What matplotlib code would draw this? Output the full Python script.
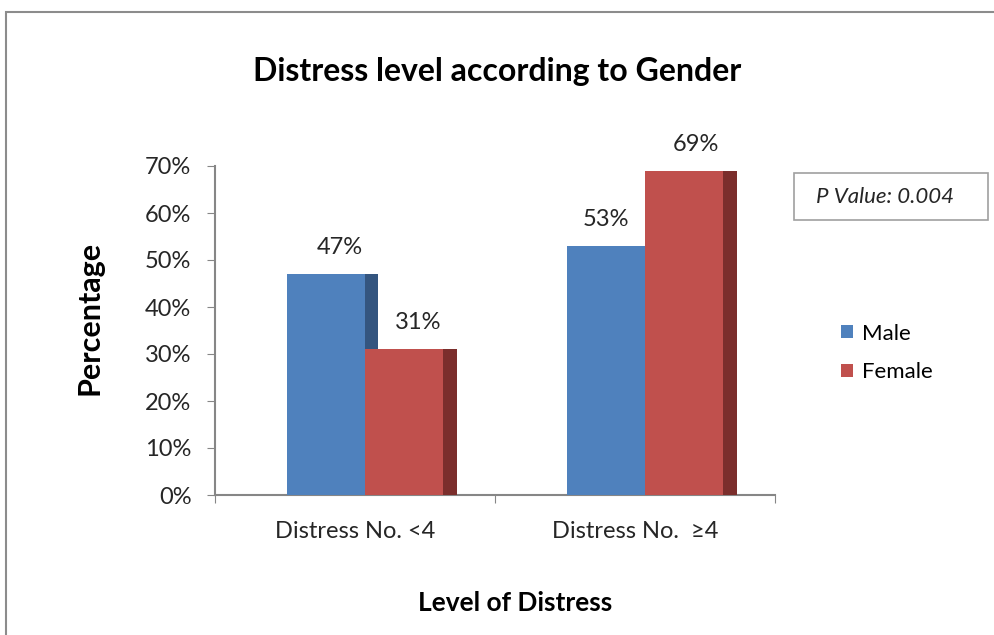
import matplotlib
matplotlib.use("Agg")
import matplotlib.pyplot as plt
from matplotlib.patches import Rectangle
from matplotlib.ticker import FixedLocator, FuncFormatter

plt.rcParams['font.family'] = ['Lato', 'DejaVu Sans']

categories = ["Distress No. <4", "Distress No.  \u22654"]
series = ["Male", "Female"]
male = [47, 53]
female = [31, 69]
y_ticks = [0, 10, 20, 30, 40, 50, 60, 70]

front_colors = {"Male": "#4f81bd", "Female": "#c0504d"}
side_colors = {"Male": "#34557f", "Female": "#7b2e2c"}
# horizontal nudge of each value label (in category units)
label_dx = {"Male": [0.05, 0.0], "Female": [0.05, 0.04]}

fig = plt.figure(figsize=(9.95, 6.35), dpi=100)
ax = fig.add_axes([215 / 995, 1 - 495 / 635, 560 / 995, (495 - 166) / 635])

bar_w = 0.28
side_w = 0.047
offsets = {"Male": -0.104, "Female": 0.176}
values = {"Male": male, "Female": female}

for z, name in enumerate(series):
    xs = [i + offsets[name] for i in range(len(categories))]
    vals = values[name]
    # darker side face to give the bars depth
    ax.bar([x + bar_w / 2 + side_w / 2 for x in xs], vals, width=side_w,
           color=side_colors[name], zorder=2 + 2 * z, linewidth=0)
    ax.bar(xs, vals, width=bar_w, color=front_colors[name],
           zorder=3 + 2 * z, linewidth=0, label=name)
    for x, v, dx in zip(xs, vals, label_dx[name]):
        ax.annotate(f"{v}%", (x + dx, v), xytext=(0, 19),
                    textcoords="offset points", ha="center", va="center",
                    fontsize=17, color="#262626")

ax.set_xlim(-0.5, 1.5)
ax.set_ylim(0, 70)
ax.yaxis.set_major_locator(FixedLocator(y_ticks))
ax.yaxis.set_major_formatter(FuncFormatter(lambda v, p: f"{int(v)}%"))
ax.tick_params(axis="y", labelsize=17, length=6, color="#868686",
               labelcolor="#262626", pad=11)

ax.xaxis.set_major_locator(FixedLocator([-0.5, 0.5, 1.5]))
ax.xaxis.set_major_formatter(FuncFormatter(lambda v, p: ""))
ax.xaxis.set_minor_locator(FixedLocator([0, 1]))
ax.set_xticklabels(categories, minor=True)
ax.tick_params(axis="x", which="major", length=6, color="#868686")
ax.tick_params(axis="x", which="minor", length=0, labelsize=17,
               labelcolor="#262626", pad=19)

for s in ["top", "right"]:
    ax.spines[s].set_visible(False)
for s in ["left", "bottom"]:
    ax.spines[s].set_color("#868686")
    ax.spines[s].set_linewidth(1.5)

fig.text(90 / 995, 1 - 318 / 635, "Percentage", rotation=90, ha="center",
         va="center", fontsize=22, fontweight="bold")
fig.text(515 / 995, 1 - 603 / 635, "Level of Distress", ha="center",
         va="center", fontsize=19, fontweight="bold")
fig.text(0.5, 1 - 71 / 635, "Distress level according to Gender",
         ha="center", va="center", fontsize=23, fontweight="bold")

leg = ax.legend(loc="center left", bbox_to_anchor=(830 / 995, 1 - 353 / 635),
                bbox_transform=fig.transFigure, frameon=False, fontsize=16,
                handlelength=0.55, handleheight=0.55, handletextpad=0.4,
                labelspacing=0.85, borderpad=0)

# p-value box
fig.patches.append(Rectangle((794 / 995, 1 - 220 / 635), 194 / 995, 47 / 635,
                             transform=fig.transFigure, fill=False,
                             edgecolor="#a0a0a0", linewidth=1.2))
fig.text(885 / 995, 1 - 197 / 635, "P Value: 0.004", ha="center", va="center",
         fontsize=16, fontstyle="italic", color="#262626")

# outer chart border
fig.patches.append(Rectangle((6 / 995, -0.05), 1.1, 1 - 12 / 635 + 0.05,
                             transform=fig.transFigure, fill=False,
                             edgecolor="#8c8c8c", linewidth=1.5))

fig.savefig("out.png", dpi=100)
